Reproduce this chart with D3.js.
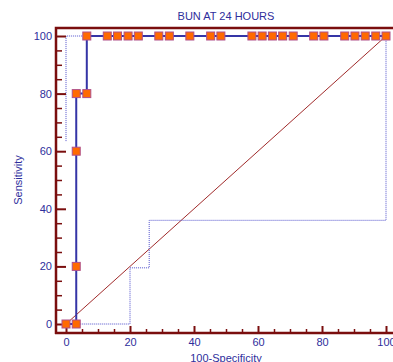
<!DOCTYPE html>
<html>
<head>
<meta charset="utf-8">
<script src="https://cdn.jsdelivr.net/npm/d3@7"></script>
<style>
html,body{margin:0;padding:0;background:#fff;}
svg{display:block;font-family:"Liberation Sans",Arial,sans-serif;}
</style>
</head>
<body>
<svg id="c" width="393" height="362"></svg>
<script>
// ROC curve points (100-Specificity, Sensitivity)
const rocX = [0, 3.2, 3.2, 3.2, 3.2, 6.5, 6.5, 12.9, 16.1, 19.4, 22.6, 29.0, 32.3, 38.7, 45.2, 48.4, 58.1, 61.3, 64.5, 67.7, 71.0, 77.4, 80.6, 87.1, 90.3, 93.5, 96.8, 100];
const rocY = [0, 0, 20, 60, 80, 80, 100, 100, 100, 100, 100, 100, 100, 100, 100, 100, 100, 100, 100, 100, 100, 100, 100, 100, 100, 100, 100, 100];
// Upper confidence bound (dotted)
const upperX = [0, 0, 6.5];
const upperY = [63.5, 100, 100];
// Lower confidence bound (dotted)
const lowerX = [3.2, 20, 20, 26, 26, 100, 100];
const lowerY = [0, 0, 19.5, 19.5, 36, 36, 100];
// Reference diagonal
const diagX = [0, 100];
const diagY = [0, 100];
const majorTicks = [0, 20, 40, 60, 80, 100];
const minorTicks = d3.range(0, 101, 5).filter(v => v % 20 !== 0);
const title = "BUN AT 24 HOURS";
const xTitle = "100-Specificity";
const yTitle = "Sensitivity";

const svg = d3.select("#c");
const x = d3.scaleLinear().domain([0, 100]).range([66, 386]);
const y = d3.scaleLinear().domain([0, 100]).range([324, 36]);

const axisColor = "#7a0e0e";
const textColor = "#2e2e9c";
const lineBlue = "#3535a6";
const dotBlue = "#5050cc";

const axLeftX = 56, axBottomY = 333, frameTop = 28, frameRight = 393;

const line = d3.line().x(d => x(d[0])).y(d => y(d[1]));

svg.append("path")
  .attr("d", line(diagX.map((v, i) => [v, diagY[i]])))
  .attr("fill", "none").attr("stroke", "#a02a2a").attr("stroke-width", 1);

svg.append("path")
  .attr("d", line(upperX.map((v, i) => [v, upperY[i]])))
  .attr("fill", "none").attr("stroke", dotBlue).attr("stroke-width", 1).attr("stroke-dasharray", "1,1");
svg.append("path")
  .attr("d", line(lowerX.map((v, i) => [v, lowerY[i]])))
  .attr("fill", "none").attr("stroke", dotBlue).attr("stroke-width", 1).attr("stroke-dasharray", "1,1");

svg.append("path")
  .attr("d", line(rocX.map((v, i) => [v, rocY[i]])))
  .attr("fill", "none").attr("stroke", lineBlue).attr("stroke-width", 2);

// Frame lines
svg.append("path")
  .attr("d", `M${axLeftX},${axBottomY + 1}V${frameTop}H${frameRight}`)
  .attr("fill", "none").attr("stroke", axisColor).attr("stroke-width", 2.5);
svg.append("path")
  .attr("d", `M${axLeftX - 1},${axBottomY}H${frameRight}`)
  .attr("fill", "none").attr("stroke", axisColor).attr("stroke-width", 2.5);

// Y axis
const yMaj = svg.append("g").attr("transform", `translate(${axLeftX},0)`)
  .call(d3.axisLeft(y).tickValues(majorTicks).tickSizeInner(-10).tickSizeOuter(0).tickPadding(4).tickFormat(d3.format("d")));
const yMin = svg.append("g").attr("transform", `translate(${axLeftX},0)`)
  .call(d3.axisLeft(y).tickValues(minorTicks).tickSizeInner(-6).tickSizeOuter(0).tickFormat(""));
// X axis
const xMaj = svg.append("g").attr("transform", `translate(0,${axBottomY})`)
  .call(d3.axisBottom(x).tickValues(majorTicks).tickSizeInner(-7).tickSizeOuter(0).tickPadding(5).tickFormat(d3.format("d")));
const xMin = svg.append("g").attr("transform", `translate(0,${axBottomY})`)
  .call(d3.axisBottom(x).tickValues(minorTicks).tickSizeInner(-4).tickSizeOuter(0).tickFormat(""));

[yMaj, yMin, xMaj, xMin].forEach(g => {
  g.select(".domain").remove();
  g.selectAll(".tick line").attr("stroke", axisColor).attr("stroke-width", 2);
  g.selectAll(".tick text").attr("fill", textColor).attr("font-size", 11)
    .attr("font-family", "Liberation Sans, Arial, sans-serif");
});
yMin.selectAll(".tick line").attr("stroke-width", 1.5);
xMin.selectAll(".tick line").attr("stroke-width", 1.5);

// Markers
const markerIdx = rocX.map((v, i) => i);
svg.append("g").selectAll("rect").data(markerIdx).join("rect")
  .attr("x", i => x(rocX[i]) - 4).attr("y", i => y(rocY[i]) - 4)
  .attr("width", 8).attr("height", 8)
  .attr("fill", "#ff6a00").attr("stroke", "#b0508a").attr("stroke-width", 1);

// Titles
svg.append("text").attr("x", 226).attr("y", 20).attr("text-anchor", "middle")
  .attr("fill", textColor).attr("font-size", 11).text(title);
svg.append("text").attr("x", 226).attr("y", 362).attr("text-anchor", "middle")
  .attr("fill", textColor).attr("font-size", 11).text(xTitle);
svg.append("text").attr("transform", "translate(22,180) rotate(-90)").attr("text-anchor", "middle")
  .attr("fill", textColor).attr("font-size", 11).text(yTitle);
</script>
</body>
</html>
